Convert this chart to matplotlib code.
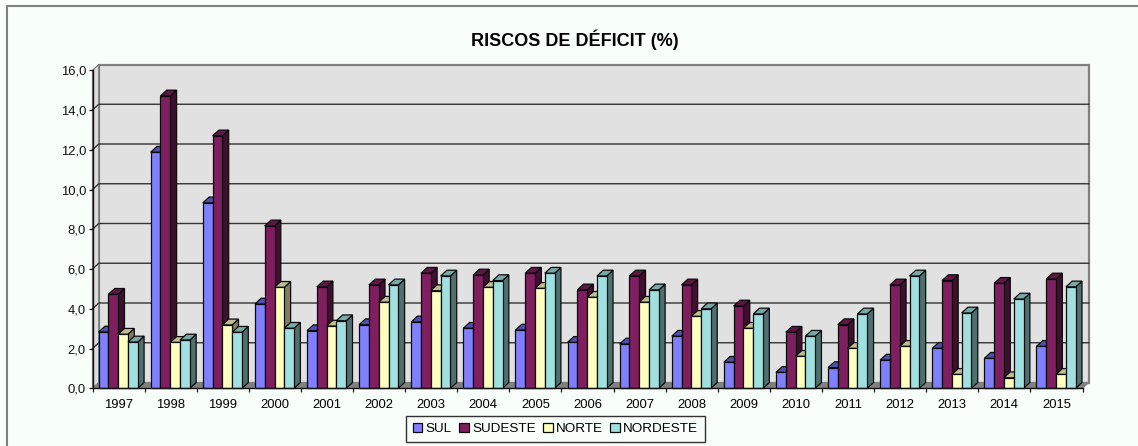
import numpy as np
import matplotlib
matplotlib.use("Agg")
import matplotlib.pyplot as plt
from matplotlib.lines import Line2D

plt.rcParams['font.family'] = ['Liberation Sans', 'DejaVu Sans']

years = [str(y) for y in range(1997, 2016)]
sul = [2.83, 11.88, 9.33, 4.24, 2.9, 3.2, 3.34, 3.02, 2.93, 2.31, 2.23, 2.62, 1.31, 0.8, 1.04, 1.42, 2.01, 1.51, 2.11]
sudeste = [4.73, 14.71, 12.7, 8.17, 5.1, 5.2, 5.79, 5.7, 5.79, 4.95, 5.65, 5.2, 4.14, 2.82, 3.2, 5.2, 5.42, 5.28, 5.5]
norte = [2.72, 2.31, 3.19, 5.08, 3.13, 4.33, 4.91, 5.08, 5.03, 4.58, 4.33, 3.62, 3.02, 1.61, 2.01, 2.11, 0.7, 0.53, 0.7]
nordeste = [2.33, 2.43, 2.82, 3.02, 3.4, 5.2, 5.65, 5.42, 5.79, 5.65, 4.95, 4.0, 3.74, 2.62, 3.74, 5.65, 3.79, 4.49, 5.1]
series = [('SUL', sul, '#8080FF', '#5050B0', '#40407F'),
          ('SUDESTE', sudeste, '#7F1F5F', '#5F1747', '#3F0F2F'),
          ('NORTE', norte, '#FFFFC0', '#BFBF90', '#7F7F60'),
          ('NORDESTE', nordeste, '#A0E0E0', '#78A8A8', '#507070')]
yticks = np.arange(0, 17, 2)

W, H = 1138, 446
BG = '#F8FEFA'
fig = plt.figure(figsize=(W / 100, H / 100), dpi=100, facecolor=BG)
L, R, T, B = 92.5, 1082.5, 70.3, 388.3
ax = fig.add_axes([L / W, 1 - B / H, (R - L) / W, (B - T) / H])
ax.set_xlim(0, 19)
ax.set_ylim(0, 16)
ax.patch.set_visible(False)

DX = 6.3 * 19 / (R - L)
DY = 5.8 * 16 / (B - T)
GAP = 0.117
BW = 0.188
EDGE = '#0A0A0A'

# walls and floor
ax.fill([DX, 19 + DX, 19 + DX, DX], [DY, DY, 16 + DY, 16 + DY], fc='#E1E1E1', ec='#808080', lw=1.6, clip_on=False, zorder=1)
ax.fill([0, DX, DX, 0], [0, DY, 16 + DY, 16], fc='#DCDCDC', ec='#707070', lw=0.8, clip_on=False, zorder=1)
ax.fill([0, 19, 19 + DX, DX], [0, 0, DY, DY], fc='#808080', ec='#808080', lw=0.8, clip_on=False, zorder=1.5)
for v in yticks[1:-1]:
    ax.plot([0, DX, 19 + DX], [v, v + DY, v + DY], color='#333333', lw=1.0, clip_on=False, zorder=1.2)

# bars
z = 3
for i in range(len(years)):
    for k, (name, vals, c, ctop, cside) in enumerate(series):
        x0 = i + GAP + k * BW
        v = vals[i]
        ax.fill([x0 + BW, x0 + BW + DX, x0 + BW + DX, x0 + BW], [0, DY, v + DY, v], fc=cside, ec=EDGE, lw=0.9, clip_on=False, zorder=z)
        ax.fill([x0, x0 + DX, x0 + BW + DX, x0 + BW], [v, v + DY, v + DY, v], fc=ctop, ec=EDGE, lw=0.9, clip_on=False, zorder=z)
        ax.bar(x0, v, BW, align='edge', color=c, edgecolor=EDGE, lw=0.9, clip_on=False, zorder=z + 0.1,
               label=name if i == 0 else None)
        z += 0.2

for s in ('top', 'right'):
    ax.spines[s].set_visible(False)
for s in ('left', 'bottom'):
    ax.spines[s].set_color('#111111')
    ax.spines[s].set_linewidth(1.0)
    ax.spines[s].set_zorder(100)
ax.set_yticks(yticks)
ax.set_yticklabels([f'{v:.1f}'.replace('.', ',') for v in yticks], fontsize=9.4, color='#111111')
ax.set_xticks(np.arange(20))
ax.set_xticklabels([])
ax.set_xticks(np.arange(19) + 0.5, minor=True)
ax.set_xticklabels(years, minor=True, fontsize=9.4, color='black')
ax.tick_params(axis='x', which='minor', length=0, pad=7.5)
ax.tick_params(axis='both', which='major', length=3.2, width=0.9, color='#111111')
ax.tick_params(axis='y', which='major', pad=1.5)

fig.text(575 / W, 1 - 40 / H, 'RISCOS DE DÉFICIT (%)', ha='center', va='center', fontsize=13, fontweight='bold', color='black')

# outer frame: left and top edges only
fig.add_artist(Line2D([6.5 / W, 6.5 / W, 1], [0, 1 - 5.5 / H, 1 - 5.5 / H], transform=fig.transFigure, color='#808080', lw=1.5))

leg = ax.legend(loc='center', bbox_to_anchor=(555.5 / W, 1 - 429 / H), bbox_transform=fig.transFigure, ncol=4,
                fontsize=9.7, frameon=True, fancybox=False, facecolor=BG, edgecolor='#333333', framealpha=1,
                handlelength=0.7, handleheight=0.7, handletextpad=0.25, columnspacing=0.55,
                borderpad=0.5, borderaxespad=0)
leg.get_frame().set_linewidth(1.0)
leg.set_zorder(200)

fig.savefig('out.png', dpi=100, facecolor=BG)
